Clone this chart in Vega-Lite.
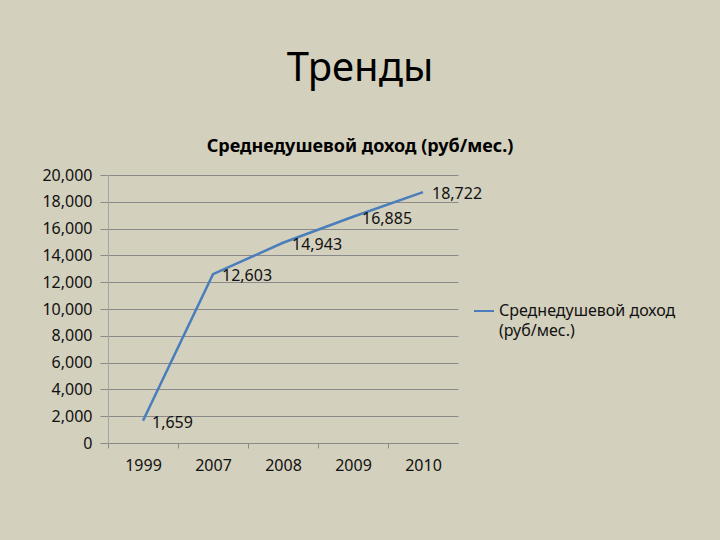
{
  "$schema": "https://vega.github.io/schema/vega-lite/v6.json",
  "width": 350,
  "height": 268,
  "autosize": {"type": "none"},
  "padding": {"left": 108, "top": 175, "right": 262, "bottom": 97},
  "background": "#D3D0BD",
  "title": {
    "text": "Тренды",
    "subtitle": "Среднедушевой доход (руб/мес.)",
    "anchor": "middle",
    "dx": 77,
    "offset": 11,
    "font": "Noto Sans",
    "fontSize": 40,
    "fontWeight": "normal",
    "color": "#000000",
    "subtitleFont": "Noto Sans",
    "subtitleFontSize": 18,
    "subtitleFontWeight": "bold",
    "subtitleColor": "#000000",
    "subtitlePadding": 49
  },
  "config": {
    "view": {"stroke": null},
    "font": "Noto Sans",
    "style": {"guide-label": {"lineHeight": 20}}
  },
  "data": {
    "values": [
      {"year": "1999", "value": 1659, "series": "Среднедушевой доход (руб/мес.)"},
      {"year": "2007", "value": 12603, "series": "Среднедушевой доход (руб/мес.)"},
      {"year": "2008", "value": 14943, "series": "Среднедушевой доход (руб/мес.)"},
      {"year": "2009", "value": 16885, "series": "Среднедушевой доход (руб/мес.)"},
      {"year": "2010", "value": 18722, "series": "Среднедушевой доход (руб/мес.)"}
    ]
  },
  "encoding": {
    "x": {
      "field": "year",
      "type": "ordinal",
      "scale": {"type": "point", "padding": 0.5},
      "axis": {
        "title": null,
        "labelAngle": 0,
        "labelFont": "Noto Sans",
        "labelFontSize": 16,
        "labelColor": "#111111",
        "tickOffset": -35,
        "labelOffset": 35,
        "tickSize": 5,
        "labelPadding": 9,
        "tickColor": "#8A8A8A",
        "domainColor": "#8A8A8A",
        "grid": false
      }
    },
    "y": {
      "field": "value",
      "type": "quantitative",
      "scale": {"domain": [0, 20000], "nice": false},
      "axis": {
        "title": null,
        "values": [0, 2000, 4000, 6000, 8000, 10000, 12000, 14000, 16000, 18000, 20000],
        "format": ",d",
        "labelFont": "Noto Sans",
        "labelFontSize": 16,
        "labelColor": "#111111",
        "tickSize": 8,
        "labelPadding": 8,
        "tickColor": "#8A8A8A",
        "domainColor": "#A5A5A5",
        "grid": true,
        "gridColor": "#8A8A8A",
        "gridWidth": 1
      }
    }
  },
  "layer": [
    {
      "mark": {"type": "line", "strokeWidth": 2.5},
      "encoding": {
        "color": {
          "field": "series",
          "type": "nominal",
          "scale": {"range": ["#4A7EBB"]},
          "legend": {
            "title": null,
            "orient": "none",
            "legendX": 365,
            "legendY": 125,
            "padding": 0,
            "symbolType": "stroke",
            "symbolSize": 400,
            "symbolStrokeWidth": 2,
            "labelFont": "Noto Sans",
            "labelFontSize": 16,
            "labelColor": "#111111",
            "labelLimit": 300,
            "labelExpr": "['Среднедушевой доход', '(руб/мес.)']"
          }
        }
      }
    },
    {
      "mark": {"type": "text", "align": "left", "baseline": "middle", "dx": 9, "dy": 2, "fontSize": 16, "font": "Noto Sans", "color": "#111111"},
      "encoding": {
        "text": {"field": "value", "type": "quantitative", "format": ",d"}
      }
    }
  ]
}
